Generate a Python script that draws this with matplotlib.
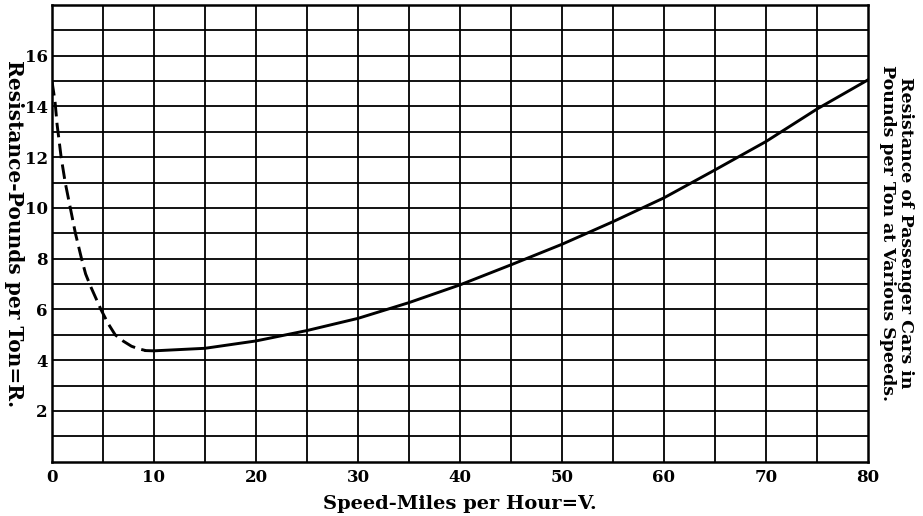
import matplotlib.pyplot as plt
import numpy as np

# speed (mph) and resistance (lb/ton)
dash_v = [0, 0.3, 0.5, 0.9, 1.3, 1.8, 2.3, 2.9, 3.3, 3.8, 4.8, 5.5, 6.2, 7.0, 7.8, 8.5, 9.2]
dash_r = [15.0, 14.2, 13.3, 12.0, 11.0, 10.0, 9.0, 8.0, 7.4, 6.9, 6.0, 5.45, 5.0,
          4.75, 4.55, 4.45, 4.38]

solid_v = [9.2, 10, 15, 20, 25, 30, 35, 40, 45, 50, 55, 60, 65, 70, 75, 80]
solid_r = [4.38, 4.37, 4.47, 4.76, 5.17, 5.65, 6.27, 6.97, 7.76, 8.57,
           9.46, 10.4, 11.5, 12.62, 13.9, 15.05]

x_ticks = [0, 10, 20, 30, 40, 50, 60, 70, 80]
y_ticks = [2, 4, 6, 8, 10, 12, 14, 16]

plt.rcParams['font.family'] = 'DejaVu Serif'
plt.rcParams['font.weight'] = 'bold'

fig = plt.figure(figsize=(9.23, 5.16), dpi=100)
ax = fig.add_axes([0.0563, 0.1052, 0.8841, 0.8851])

# graph paper: every 5 mph and every 1 lb
for v in np.arange(5, 80, 5):
    ax.axvline(v, color='black', lw=1.3, zorder=1)
for r in np.arange(1, 18, 1):
    ax.axhline(r, color='black', lw=1.3, zorder=1)

ax.plot(dash_v, dash_r, color='black', lw=2.1, ls=(0, (5, 2.2)), zorder=3)
ax.plot(solid_v, solid_r, color='black', lw=2.1, zorder=3)

ax.set_xlim(0, 80)
ax.set_ylim(0, 18)
ax.set_xticks(x_ticks)
ax.set_yticks(y_ticks)
ax.tick_params(length=0, labelsize=12)
ax.tick_params(axis='y', pad=3)
ax.tick_params(axis='x', pad=5)
for lab in ax.get_xticklabels() + ax.get_yticklabels():
    lab.set_fontweight('bold')
for s in ax.spines.values():
    s.set_linewidth(1.8)

ax.set_xlabel('Speed-Miles per Hour=V.', fontsize=14, fontweight='bold', labelpad=7)
ax.set_ylabel('Resistance-Pounds per Ton=R.', fontsize=14.5, fontweight='bold',
              rotation=-90, va='center')
ax.yaxis.set_label_coords(-0.0465, 0.5)

fig.text(0.971, 0.548, 'Resistance of Passenger Cars in\nPounds per Ton at Various Speeds.',
         rotation=-90, ha='center', va='center', fontsize=12.5, fontweight='bold',
         linespacing=1.1, multialignment='center')

fig.savefig('out.png', dpi=100)
